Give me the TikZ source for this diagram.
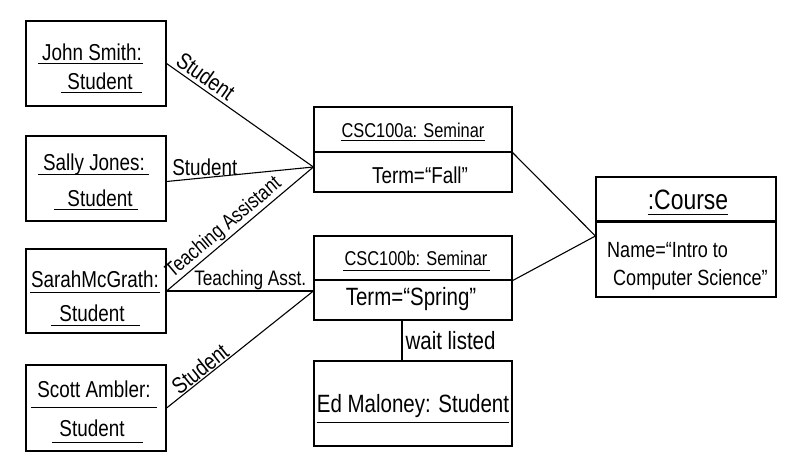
\documentclass[tikz,border=0pt]{standalone}
\usepackage{fontspec}
\setmainfont{Liberation Sans}[FakeStretch=0.82]
\begin{document}
\begin{tikzpicture}[x=1pt,y=-1pt,
  box/.style={draw, line width=1.2pt, inner sep=0pt, minimum width=140pt},
  sbox/.style={draw, line width=1.2pt, inner sep=0pt, minimum width=198pt},
  txt/.style={inner sep=0pt, font=\fontsize{23}{26}\selectfont},
  lbl/.style={inner sep=3pt, font=\fontsize{23}{26}\selectfont},
  slbl/.style={inner sep=3pt, font=\fontsize{21}{24}\selectfont},
  link/.style={line width=1.1pt},
  ul/.style={line width=1pt}]
\useasboundingbox (0,0) rectangle (790,471);

% student boxes
\node[box, minimum height=85pt] (john) at (96,63.5) {};
\node[txt, anchor=base] (johnA) at (92,60) {John Smith:};
\node[txt, anchor=base] (johnB) at (100,89) {Student};
\draw[ul] ([xshift=-4pt,yshift=-3pt]johnA.base west) -- ([xshift=1pt,yshift=-3pt]johnA.base east);
\draw[ul] ([xshift=-6pt,yshift=-3pt]johnB.base west) -- ([xshift=9pt,yshift=-3pt]johnB.base east);

\node[box, minimum height=85pt] (sally) at (96,178.5) {};
\node[txt, anchor=base] (sallyA) at (94,170) {Sally Jones:};
\node[txt, anchor=base] (sallyB) at (100,206) {Student};
\draw[ul] ([xshift=-5pt,yshift=-4pt]sallyA.base west) -- ([xshift=4pt,yshift=-4pt]sallyA.base east);
\draw[ul] ([xshift=-13pt,yshift=-3pt]sallyB.base west) -- ([xshift=5pt,yshift=-3pt]sallyB.base east);

\node[box, minimum height=84pt] (sarah) at (96,291) {};
\node[txt, anchor=base] (sarahA) at (95,287) {SarahMcGrath:};
\node[txt, anchor=base] (sarahB) at (92,321) {Student};
\draw[ul] ([xshift=-1pt,yshift=-5pt]sarahA.base west) -- ([xshift=1pt,yshift=-5pt]sarahA.base east);
\draw[ul] ([xshift=-8pt,yshift=-4pt]sarahB.base west) -- ([xshift=15pt,yshift=-4pt]sarahB.base east);

\node[box, minimum height=86pt] (scott) at (96,408) {};
\node[txt, anchor=base] (scottA) at (94,397) {Scott Ambler:};
\node[txt, anchor=base] (scottB) at (92,436) {Student};
\draw[ul] ([xshift=-6pt,yshift=-10pt]scottA.base west) -- ([xshift=6pt,yshift=-10pt]scottA.base east);
\draw[ul] ([xshift=-7pt,yshift=-6pt]scottB.base west) -- ([xshift=18pt,yshift=-6pt]scottB.base east);

% seminar a
\node[sbox, minimum height=45pt] (ahead) at (413,129.5) {};
\node[sbox, minimum height=40pt] (abody) at (413,172) {};
\node[txt, anchor=base, font=\fontsize{20}{24}\selectfont] (aname) at (413,137) {CSC100a: Seminar};
\draw[ul] ([yshift=-3pt]aname.base west) -- ([yshift=-3pt]aname.base east);
\node[txt, anchor=base] (aterm) at (420,183) {Term=“Fall”};

% seminar b
\node[sbox, minimum height=44pt] (bhead) at (413,258) {};
\node[sbox, minimum height=40pt] (bbody) at (413,300) {};
\node[txt, anchor=base, font=\fontsize{20}{24}\selectfont] (bname) at (416,265) {CSC100b: Seminar};
\draw[ul] ([xshift=-1pt,yshift=-5pt]bname.base west) -- ([xshift=2pt,yshift=-5pt]bname.base east);
\node[txt, anchor=base, font=\fontsize{25}{28}\selectfont] (bterm) at (411,305) {Term=“Spring”};

% Ed
\node[sbox, minimum height=85pt] (ed) at (413,403.5) {};
\node[txt, anchor=base, font=\fontsize{25}{28}\selectfont] (edA) at (413,412) {Ed Maloney: Student};
\draw[ul] ([yshift=-10pt]edA.base west) -- ([yshift=-10pt]edA.base east);

% course
\node[draw, line width=1.2pt, inner sep=0pt, minimum width=180pt, minimum height=44pt] (chead) at (686,199) {};
\node[draw, line width=1.2pt, inner sep=0pt, minimum width=180pt, minimum height=76pt] (cbody) at (686,259) {};
\draw[line width=2.6pt] (chead.south west) -- (chead.south east);
\node[txt, anchor=base, font=\fontsize{28}{32}\selectfont] (cname) at (688,209) {:Course};
\draw[ul] ([yshift=-5pt]cname.base west) -- ([yshift=-5pt]cname.base east);
\node[txt, anchor=base west, font=\fontsize{22}{26}\selectfont] (cA) at (607,257) {Name=“Intro to};
\node[txt, anchor=base west, font=\fontsize{22}{26}\selectfont] (cB) at (613,285) {Computer Science”};

% connection points
\coordinate (ain) at ([yshift=5pt]abody.west);
\coordinate (bin) at ([yshift=9pt]bbody.west);
\coordinate (cin) at ([yshift=23pt]cbody.west);

% links
\draw[link] (john.east) -- node[lbl, sloped, above, pos=0.22] {Student} (ain);
\draw[link] ([yshift=-3pt]sally.east) -- node[lbl, above, pos=0.26, inner sep=1pt] {Student} (ain);
\draw[link] (sarah.east) -- node[slbl, sloped, above, pos=0.44, inner sep=1pt] {Teaching Assistant} (ain);
\draw[link] (sarah.east) -- node[slbl, above, pos=0.57, inner sep=1pt] {Teaching Asst.} (bin);
\draw[link] (scott.east) -- node[lbl, sloped, above, pos=0.27, inner sep=1pt] {Student} (bin);
\draw[link] (ahead.south east) -- (cin);
\draw[link] (bhead.south east) -- (cin);
\draw[link] ([xshift=-11pt]bbody.south) -- node[lbl, right, font=\fontsize{25}{28}\selectfont] {wait listed} ([xshift=-11pt]ed.north);
\end{tikzpicture}
\end{document}
